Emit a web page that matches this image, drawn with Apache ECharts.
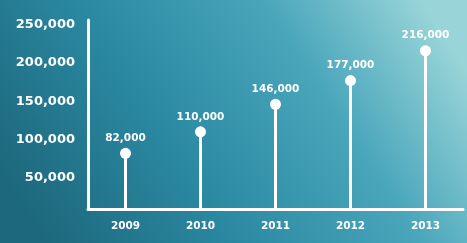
<!DOCTYPE html>
<html>
<head>
<meta charset="utf-8">
<script src="https://cdn.jsdelivr.net/npm/echarts@6/dist/echarts.min.js"></script>
<style>
  html, body { margin: 0; padding: 0; }
  #chart { width: 467px; height: 243px; }
</style>
</head>
<body>
<div id="chart"></div>
<script>
// data
const years = ['2009', '2010', '2011', '2012', '2013'];
const visitors = [82000, 110000, 146000, 177000, 216000];
const yTicks = [50000, 100000, 150000, 200000, 250000];

const fmt = v => v.toLocaleString('en-US');
const font = 'DejaVu Sans';

const chart = echarts.init(document.getElementById('chart'));
chart.setOption({
  backgroundColor: new echarts.graphic.LinearGradient(0.1, 1, 0.9, 0, [
    { offset: 0, color: '#1d687c' },
    { offset: 0.35, color: '#2a88a1' },
    { offset: 0.7, color: '#48a5ba' },
    { offset: 1, color: '#98d4d8' }
  ]),
  animation: false,
  grid: { left: 88, right: 4, top: 20, bottom: 34 },
  xAxis: {
    type: 'category',
    data: years,
    axisLine: { onZero: false, lineStyle: { color: '#fff', width: 3 } },
    axisTick: { show: false },
    axisLabel: {
      color: '#fff', fontFamily: font, fontWeight: 'bold', fontSize: 10.5, margin: 12
    }
  },
  yAxis: {
    type: 'value',
    min: 9150,
    max: 256200,
    splitLine: { show: false },
    axisTick: { show: false },
    axisLine: { show: true, lineStyle: { color: '#fff', width: 3 } },
    axisLabel: {
      customValues: yTicks,
      formatter: fmt,
      color: '#fff', fontFamily: font, fontWeight: 'bold', fontSize: 13, margin: 13
    }
  },
  series: [
    {
      // stems
      type: 'bar',
      data: visitors,
      barWidth: 3,
      clip: true,
      itemStyle: { color: '#fff' },
      silent: true
    },
    {
      // dots with values
      type: 'scatter',
      data: visitors,
      symbolSize: 11,
      itemStyle: { color: '#fff', opacity: 1 },
      label: {
        show: true,
        position: 'top',
        distance: 4,
        formatter: p => fmt(p.value),
        color: '#fff', fontFamily: font, fontWeight: 'bold', fontSize: 10.5
      }
    }
  ]
});
</script>
</body>
</html>
